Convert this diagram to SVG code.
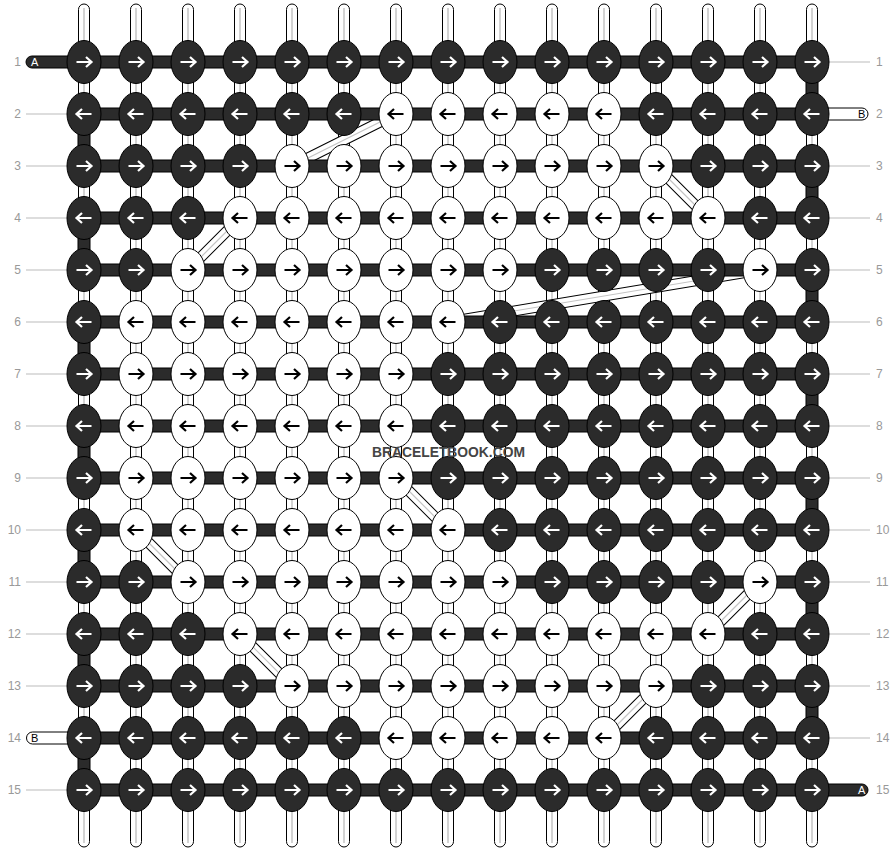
<svg xmlns="http://www.w3.org/2000/svg" xmlns:xlink="http://www.w3.org/1999/xlink" width="896" height="852" viewBox="0 0 896 852">
<style>
.bg{fill:#fff}
.str{fill:#fff;stroke:#000;stroke-width:1}
.strc{stroke:#c4c4c4;stroke-width:1.5;fill:none}
.band{fill:#2b2b2b;stroke:#000;stroke-width:1}
.kd{fill:#2b2b2b;stroke:#000;stroke-width:1}
.kw{fill:#fff;stroke:#000;stroke-width:1}
.aw{fill:none;stroke:#fff;stroke-width:2.2}
.ab{fill:none;stroke:#000;stroke-width:2.2}
.dg1{stroke:#000;stroke-width:11;fill:none}
.dg2{stroke:#fff;stroke-width:9;fill:none}
.dg3{stroke:#c4c4c4;stroke-width:1.2;fill:none}
.num{font-family:"Liberation Sans",Arial,sans-serif;font-size:12px;fill:#999}
.tick{stroke:#bbb;stroke-width:1}
.lblw{font-family:"Liberation Sans",Arial,sans-serif;font-size:11px;fill:#fff}
.lblb{font-family:"Liberation Sans",Arial,sans-serif;font-size:11px;fill:#000}
.wm{font-family:"Liberation Sans",Arial,sans-serif;font-size:15.5px;font-weight:bold;fill:#444}
</style>
<defs>
<g id="dR"><ellipse class="kd" rx="17" ry="21.5"/><path class="aw" d="M-7.5,0H7.5M2,-5L7.5,0L2,5"/></g>
<g id="dL"><ellipse class="kd" rx="17" ry="21.5"/><path class="aw" d="M7.5,0H-7.5M-2,-5L-7.5,0L-2,5"/></g>
<g id="wR"><ellipse class="kw" rx="17" ry="21.5"/><path class="ab" d="M-7.5,0H7.5M2,-5L7.5,0L2,5"/></g>
<g id="wL"><ellipse class="kw" rx="17" ry="21.5"/><path class="ab" d="M7.5,0H-7.5M-2,-5L-7.5,0L-2,5"/></g>
<g id="vs"><rect class="str" x="-5.5" y="4" width="11" height="843" rx="5.5"/><line class="strc" x1="0" y1="8" x2="0" y2="843"/></g>
</defs>
<rect class="bg" width="896" height="852"/>
<g id="labels">
<text class="num" x="21" y="66" text-anchor="end">1</text>
<text class="num" x="21" y="118" text-anchor="end">2</text>
<text class="num" x="21" y="170" text-anchor="end">3</text>
<text class="num" x="21" y="222" text-anchor="end">4</text>
<text class="num" x="21" y="274" text-anchor="end">5</text>
<text class="num" x="21" y="326" text-anchor="end">6</text>
<text class="num" x="21" y="378" text-anchor="end">7</text>
<text class="num" x="21" y="430" text-anchor="end">8</text>
<text class="num" x="21" y="482" text-anchor="end">9</text>
<text class="num" x="21" y="534" text-anchor="end">10</text>
<text class="num" x="21" y="586" text-anchor="end">11</text>
<text class="num" x="21" y="638" text-anchor="end">12</text>
<text class="num" x="21" y="690" text-anchor="end">13</text>
<text class="num" x="21" y="742" text-anchor="end">14</text>
<text class="num" x="21" y="794" text-anchor="end">15</text>
<text class="num" x="876" y="66">1</text>
<text class="num" x="876" y="118">2</text>
<text class="num" x="876" y="170">3</text>
<text class="num" x="876" y="222">4</text>
<text class="num" x="876" y="274">5</text>
<text class="num" x="876" y="326">6</text>
<text class="num" x="876" y="378">7</text>
<text class="num" x="876" y="430">8</text>
<text class="num" x="876" y="482">9</text>
<text class="num" x="876" y="534">10</text>
<text class="num" x="876" y="586">11</text>
<text class="num" x="876" y="638">12</text>
<text class="num" x="876" y="690">13</text>
<text class="num" x="876" y="742">14</text>
<text class="num" x="876" y="794">15</text>
<g id="ticks">
<line class="tick" x1="26" y1="114" x2="67" y2="114"/>
<line class="tick" x1="26" y1="166" x2="67" y2="166"/>
<line class="tick" x1="26" y1="218" x2="67" y2="218"/>
<line class="tick" x1="26" y1="270" x2="67" y2="270"/>
<line class="tick" x1="26" y1="322" x2="67" y2="322"/>
<line class="tick" x1="26" y1="374" x2="67" y2="374"/>
<line class="tick" x1="26" y1="426" x2="67" y2="426"/>
<line class="tick" x1="26" y1="478" x2="67" y2="478"/>
<line class="tick" x1="26" y1="530" x2="67" y2="530"/>
<line class="tick" x1="26" y1="582" x2="67" y2="582"/>
<line class="tick" x1="26" y1="634" x2="67" y2="634"/>
<line class="tick" x1="26" y1="686" x2="67" y2="686"/>
<line class="tick" x1="26" y1="790" x2="67" y2="790"/>
<line class="tick" x1="829" y1="62" x2="870" y2="62"/>
<line class="tick" x1="829" y1="166" x2="870" y2="166"/>
<line class="tick" x1="829" y1="218" x2="870" y2="218"/>
<line class="tick" x1="829" y1="270" x2="870" y2="270"/>
<line class="tick" x1="829" y1="322" x2="870" y2="322"/>
<line class="tick" x1="829" y1="374" x2="870" y2="374"/>
<line class="tick" x1="829" y1="426" x2="870" y2="426"/>
<line class="tick" x1="829" y1="478" x2="870" y2="478"/>
<line class="tick" x1="829" y1="530" x2="870" y2="530"/>
<line class="tick" x1="829" y1="582" x2="870" y2="582"/>
<line class="tick" x1="829" y1="634" x2="870" y2="634"/>
<line class="tick" x1="829" y1="686" x2="870" y2="686"/>
<line class="tick" x1="829" y1="738" x2="870" y2="738"/>
</g>
</g>
<g id="strings">
<use href="#vs" x="84" y="0"/><use href="#vs" x="136" y="0"/><use href="#vs" x="188" y="0"/><use href="#vs" x="240" y="0"/><use href="#vs" x="292" y="0"/><use href="#vs" x="344" y="0"/><use href="#vs" x="396" y="0"/><use href="#vs" x="448" y="0"/><use href="#vs" x="500" y="0"/><use href="#vs" x="552" y="0"/><use href="#vs" x="604" y="0"/><use href="#vs" x="656" y="0"/><use href="#vs" x="708" y="0"/><use href="#vs" x="760" y="0"/><use href="#vs" x="812" y="0"/>
</g>
<g id="connectors">
<g id="diagonals">
<path class="dg1" d="M396,114L292,166M656,166L708,218M240,218L188,270M760,270L448,322M396,478L448,530M136,530L188,582M760,582L708,634M240,634L292,686M656,686L604,738"/>
<path class="dg2" d="M396,114L292,166M656,166L708,218M240,218L188,270M760,270L448,322M396,478L448,530M136,530L188,582M760,582L708,634M240,634L292,686M656,686L604,738"/>
<path class="dg3" d="M396,114L292,166M656,166L708,218M240,218L188,270M760,270L448,322M396,478L448,530M136,530L188,582M760,582L708,634M240,634L292,686M656,686L604,738"/>
</g>
<g id="ends">
<rect class="band" x="26" y="56" width="50" height="12" rx="6"/>
<rect class="str" x="26.5" y="732" width="50" height="12" rx="6"/>
<rect class="str" x="820" y="108" width="48" height="12" rx="6"/>
<rect class="band" x="820" y="784" width="48" height="12" rx="6"/>
</g>
<g id="rows">
<rect class="band" x="84" y="56" width="728" height="12"/>
<rect class="band" x="84" y="108" width="728" height="12"/>
<rect class="band" x="84" y="160" width="728" height="12"/>
<rect class="band" x="84" y="212" width="728" height="12"/>
<rect class="band" x="84" y="264" width="728" height="12"/>
<rect class="band" x="84" y="316" width="728" height="12"/>
<rect class="band" x="84" y="368" width="728" height="12"/>
<rect class="band" x="84" y="420" width="728" height="12"/>
<rect class="band" x="84" y="472" width="728" height="12"/>
<rect class="band" x="84" y="524" width="728" height="12"/>
<rect class="band" x="84" y="576" width="728" height="12"/>
<rect class="band" x="84" y="628" width="728" height="12"/>
<rect class="band" x="84" y="680" width="728" height="12"/>
<rect class="band" x="84" y="732" width="728" height="12"/>
<rect class="band" x="84" y="784" width="728" height="12"/>
</g>
<g id="turns">
<rect class="band" x="78" y="114" width="12" height="52"/>
<rect class="band" x="78" y="218" width="12" height="52"/>
<rect class="band" x="78" y="322" width="12" height="52"/>
<rect class="band" x="78" y="426" width="12" height="52"/>
<rect class="band" x="78" y="530" width="12" height="52"/>
<rect class="band" x="78" y="634" width="12" height="52"/>
<rect class="band" x="78" y="738" width="12" height="52"/>
<rect class="band" x="806" y="62" width="12" height="52"/>
<rect class="band" x="806" y="166" width="12" height="52"/>
<rect class="band" x="806" y="270" width="12" height="52"/>
<rect class="band" x="806" y="374" width="12" height="52"/>
<rect class="band" x="806" y="478" width="12" height="52"/>
<rect class="band" x="806" y="582" width="12" height="52"/>
<rect class="band" x="806" y="686" width="12" height="52"/>
</g>
</g>
<g id="endlabels">
<text class="lblw" x="31" y="66">A</text>
<text class="lblb" x="31" y="742">B</text>
<text class="lblb" x="858" y="118">B</text>
<text class="lblw" x="858" y="794">A</text>
</g>
<g id="knots">
<g id="row1">
<use href="#dR" x="84" y="62"/><use href="#dR" x="136" y="62"/><use href="#dR" x="188" y="62"/><use href="#dR" x="240" y="62"/><use href="#dR" x="292" y="62"/><use href="#dR" x="344" y="62"/><use href="#dR" x="396" y="62"/><use href="#dR" x="448" y="62"/><use href="#dR" x="500" y="62"/><use href="#dR" x="552" y="62"/><use href="#dR" x="604" y="62"/><use href="#dR" x="656" y="62"/><use href="#dR" x="708" y="62"/><use href="#dR" x="760" y="62"/><use href="#dR" x="812" y="62"/>
</g>
<g id="row2">
<use href="#dL" x="84" y="114"/><use href="#dL" x="136" y="114"/><use href="#dL" x="188" y="114"/><use href="#dL" x="240" y="114"/><use href="#dL" x="292" y="114"/><use href="#dL" x="344" y="114"/><use href="#wL" x="396" y="114"/><use href="#wL" x="448" y="114"/><use href="#wL" x="500" y="114"/><use href="#wL" x="552" y="114"/><use href="#wL" x="604" y="114"/><use href="#dL" x="656" y="114"/><use href="#dL" x="708" y="114"/><use href="#dL" x="760" y="114"/><use href="#dL" x="812" y="114"/>
</g>
<g id="row3">
<use href="#dR" x="84" y="166"/><use href="#dR" x="136" y="166"/><use href="#dR" x="188" y="166"/><use href="#dR" x="240" y="166"/><use href="#wR" x="292" y="166"/><use href="#wR" x="344" y="166"/><use href="#wR" x="396" y="166"/><use href="#wR" x="448" y="166"/><use href="#wR" x="500" y="166"/><use href="#wR" x="552" y="166"/><use href="#wR" x="604" y="166"/><use href="#wR" x="656" y="166"/><use href="#dR" x="708" y="166"/><use href="#dR" x="760" y="166"/><use href="#dR" x="812" y="166"/>
</g>
<g id="row4">
<use href="#dL" x="84" y="218"/><use href="#dL" x="136" y="218"/><use href="#dL" x="188" y="218"/><use href="#wL" x="240" y="218"/><use href="#wL" x="292" y="218"/><use href="#wL" x="344" y="218"/><use href="#wL" x="396" y="218"/><use href="#wL" x="448" y="218"/><use href="#wL" x="500" y="218"/><use href="#wL" x="552" y="218"/><use href="#wL" x="604" y="218"/><use href="#wL" x="656" y="218"/><use href="#wL" x="708" y="218"/><use href="#dL" x="760" y="218"/><use href="#dL" x="812" y="218"/>
</g>
<g id="row5">
<use href="#dR" x="84" y="270"/><use href="#dR" x="136" y="270"/><use href="#wR" x="188" y="270"/><use href="#wR" x="240" y="270"/><use href="#wR" x="292" y="270"/><use href="#wR" x="344" y="270"/><use href="#wR" x="396" y="270"/><use href="#wR" x="448" y="270"/><use href="#wR" x="500" y="270"/><use href="#dR" x="552" y="270"/><use href="#dR" x="604" y="270"/><use href="#dR" x="656" y="270"/><use href="#dR" x="708" y="270"/><use href="#wR" x="760" y="270"/><use href="#dR" x="812" y="270"/>
</g>
<g id="row6">
<use href="#dL" x="84" y="322"/><use href="#wL" x="136" y="322"/><use href="#wL" x="188" y="322"/><use href="#wL" x="240" y="322"/><use href="#wL" x="292" y="322"/><use href="#wL" x="344" y="322"/><use href="#wL" x="396" y="322"/><use href="#wL" x="448" y="322"/><use href="#dL" x="500" y="322"/><use href="#dL" x="552" y="322"/><use href="#dL" x="604" y="322"/><use href="#dL" x="656" y="322"/><use href="#dL" x="708" y="322"/><use href="#dL" x="760" y="322"/><use href="#dL" x="812" y="322"/>
</g>
<g id="row7">
<use href="#dR" x="84" y="374"/><use href="#wR" x="136" y="374"/><use href="#wR" x="188" y="374"/><use href="#wR" x="240" y="374"/><use href="#wR" x="292" y="374"/><use href="#wR" x="344" y="374"/><use href="#wR" x="396" y="374"/><use href="#dR" x="448" y="374"/><use href="#dR" x="500" y="374"/><use href="#dR" x="552" y="374"/><use href="#dR" x="604" y="374"/><use href="#dR" x="656" y="374"/><use href="#dR" x="708" y="374"/><use href="#dR" x="760" y="374"/><use href="#dR" x="812" y="374"/>
</g>
<g id="row8">
<use href="#dL" x="84" y="426"/><use href="#wL" x="136" y="426"/><use href="#wL" x="188" y="426"/><use href="#wL" x="240" y="426"/><use href="#wL" x="292" y="426"/><use href="#wL" x="344" y="426"/><use href="#wL" x="396" y="426"/><use href="#dL" x="448" y="426"/><use href="#dL" x="500" y="426"/><use href="#dL" x="552" y="426"/><use href="#dL" x="604" y="426"/><use href="#dL" x="656" y="426"/><use href="#dL" x="708" y="426"/><use href="#dL" x="760" y="426"/><use href="#dL" x="812" y="426"/>
</g>
<g id="row9">
<use href="#dR" x="84" y="478"/><use href="#wR" x="136" y="478"/><use href="#wR" x="188" y="478"/><use href="#wR" x="240" y="478"/><use href="#wR" x="292" y="478"/><use href="#wR" x="344" y="478"/><use href="#wR" x="396" y="478"/><use href="#dR" x="448" y="478"/><use href="#dR" x="500" y="478"/><use href="#dR" x="552" y="478"/><use href="#dR" x="604" y="478"/><use href="#dR" x="656" y="478"/><use href="#dR" x="708" y="478"/><use href="#dR" x="760" y="478"/><use href="#dR" x="812" y="478"/>
</g>
<g id="row10">
<use href="#dL" x="84" y="530"/><use href="#wL" x="136" y="530"/><use href="#wL" x="188" y="530"/><use href="#wL" x="240" y="530"/><use href="#wL" x="292" y="530"/><use href="#wL" x="344" y="530"/><use href="#wL" x="396" y="530"/><use href="#wL" x="448" y="530"/><use href="#dL" x="500" y="530"/><use href="#dL" x="552" y="530"/><use href="#dL" x="604" y="530"/><use href="#dL" x="656" y="530"/><use href="#dL" x="708" y="530"/><use href="#dL" x="760" y="530"/><use href="#dL" x="812" y="530"/>
</g>
<g id="row11">
<use href="#dR" x="84" y="582"/><use href="#dR" x="136" y="582"/><use href="#wR" x="188" y="582"/><use href="#wR" x="240" y="582"/><use href="#wR" x="292" y="582"/><use href="#wR" x="344" y="582"/><use href="#wR" x="396" y="582"/><use href="#wR" x="448" y="582"/><use href="#wR" x="500" y="582"/><use href="#dR" x="552" y="582"/><use href="#dR" x="604" y="582"/><use href="#dR" x="656" y="582"/><use href="#dR" x="708" y="582"/><use href="#wR" x="760" y="582"/><use href="#dR" x="812" y="582"/>
</g>
<g id="row12">
<use href="#dL" x="84" y="634"/><use href="#dL" x="136" y="634"/><use href="#dL" x="188" y="634"/><use href="#wL" x="240" y="634"/><use href="#wL" x="292" y="634"/><use href="#wL" x="344" y="634"/><use href="#wL" x="396" y="634"/><use href="#wL" x="448" y="634"/><use href="#wL" x="500" y="634"/><use href="#wL" x="552" y="634"/><use href="#wL" x="604" y="634"/><use href="#wL" x="656" y="634"/><use href="#wL" x="708" y="634"/><use href="#dL" x="760" y="634"/><use href="#dL" x="812" y="634"/>
</g>
<g id="row13">
<use href="#dR" x="84" y="686"/><use href="#dR" x="136" y="686"/><use href="#dR" x="188" y="686"/><use href="#dR" x="240" y="686"/><use href="#wR" x="292" y="686"/><use href="#wR" x="344" y="686"/><use href="#wR" x="396" y="686"/><use href="#wR" x="448" y="686"/><use href="#wR" x="500" y="686"/><use href="#wR" x="552" y="686"/><use href="#wR" x="604" y="686"/><use href="#wR" x="656" y="686"/><use href="#dR" x="708" y="686"/><use href="#dR" x="760" y="686"/><use href="#dR" x="812" y="686"/>
</g>
<g id="row14">
<use href="#dL" x="84" y="738"/><use href="#dL" x="136" y="738"/><use href="#dL" x="188" y="738"/><use href="#dL" x="240" y="738"/><use href="#dL" x="292" y="738"/><use href="#dL" x="344" y="738"/><use href="#wL" x="396" y="738"/><use href="#wL" x="448" y="738"/><use href="#wL" x="500" y="738"/><use href="#wL" x="552" y="738"/><use href="#wL" x="604" y="738"/><use href="#dL" x="656" y="738"/><use href="#dL" x="708" y="738"/><use href="#dL" x="760" y="738"/><use href="#dL" x="812" y="738"/>
</g>
<g id="row15">
<use href="#dR" x="84" y="790"/><use href="#dR" x="136" y="790"/><use href="#dR" x="188" y="790"/><use href="#dR" x="240" y="790"/><use href="#dR" x="292" y="790"/><use href="#dR" x="344" y="790"/><use href="#dR" x="396" y="790"/><use href="#dR" x="448" y="790"/><use href="#dR" x="500" y="790"/><use href="#dR" x="552" y="790"/><use href="#dR" x="604" y="790"/><use href="#dR" x="656" y="790"/><use href="#dR" x="708" y="790"/><use href="#dR" x="760" y="790"/><use href="#dR" x="812" y="790"/>
</g>
</g>
<text class="wm" x="448.5" y="457" text-anchor="middle" textLength="153" lengthAdjust="spacingAndGlyphs">BRACELETBOOK.COM</text>
</svg>
